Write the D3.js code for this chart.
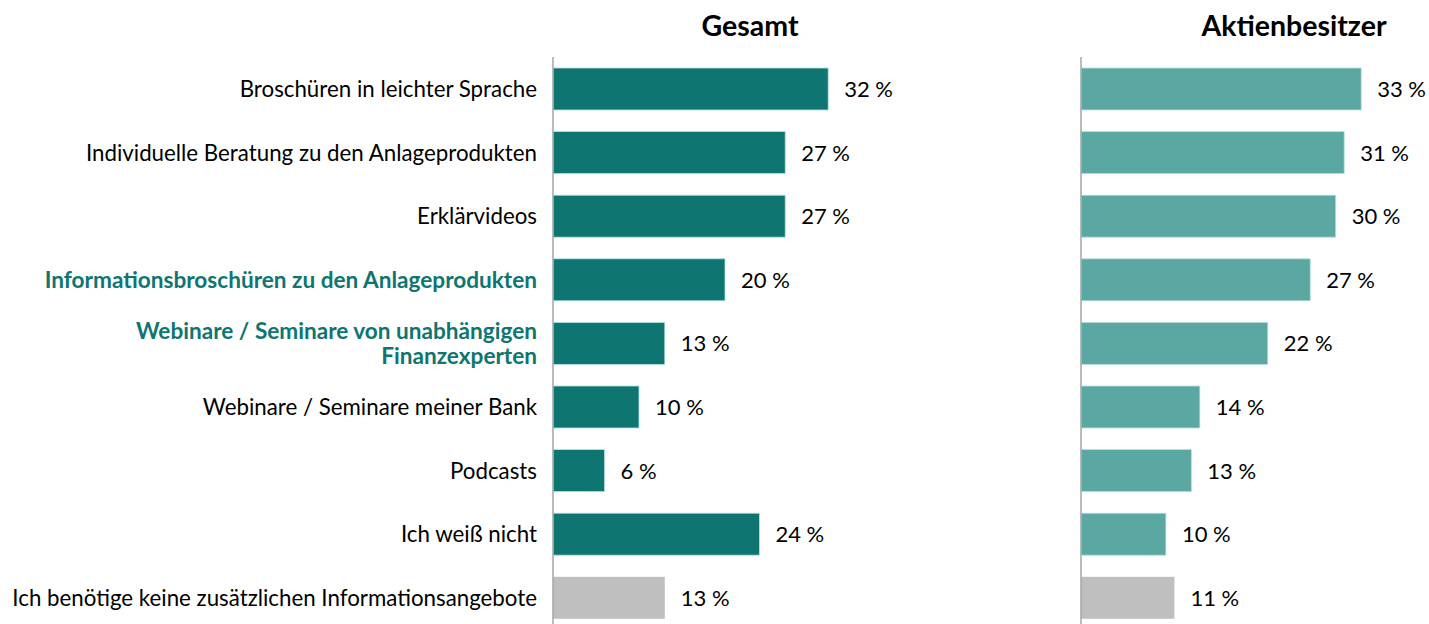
<!DOCTYPE html>
<html>
<head>
<meta charset="utf-8">
<script src="https://cdn.jsdelivr.net/npm/d3@7"></script>
<style>
  html, body { margin: 0; padding: 0; background: #fff; }
  svg { display: block; font-family: Lato, "Open Sans", sans-serif; }
</style>
</head>
<body>
<svg id="chart" width="1429" height="624"></svg>
<script>
// Survey answers: which information offers would help (multiple answers)
const categories = [
  "Broschüren in leichter Sprache",
  "Individuelle Beratung zu den Anlageprodukten",
  "Erklärvideos",
  "Informationsbroschüren zu den Anlageprodukten",
  "Webinare / Seminare von unabhängigen Finanzexperten",
  "Webinare / Seminare meiner Bank",
  "Podcasts",
  "Ich weiß nicht",
  "Ich benötige keine zusätzlichen Informationsangebote"
];
// Label lines (wrapped) for each category
const categoryLines = [
  ["Broschüren in leichter Sprache"],
  ["Individuelle Beratung zu den Anlageprodukten"],
  ["Erklärvideos"],
  ["Informationsbroschüren zu den Anlageprodukten"],
  ["Webinare / Seminare von unabhängigen", "Finanzexperten"],
  ["Webinare / Seminare meiner Bank"],
  ["Podcasts"],
  ["Ich weiß nicht"],
  ["Ich benötige keine zusätzlichen Informationsangebote"]
];
const highlighted = [
  "Informationsbroschüren zu den Anlageprodukten",
  "Webinare / Seminare von unabhängigen Finanzexperten"
];
const neutralCategory = "Ich benötige keine zusätzlichen Informationsangebote";

const gesamtValues = [32, 27, 27, 20, 13, 10, 6, 24, 13];
const aktienValues = [33, 31, 30, 27, 22, 14, 13, 10, 11];
const panelTitles = ["Gesamt", "Aktienbesitzer"];

const svg = d3.select("#chart");

// Band layout: 9 rows, step ~63.6px, bars 42px tall
const y = d3.scaleBand()
  .domain(categories)
  .range([57.2, 57.2 + 63.6 * 9])
  .paddingInner(0.34)
  .paddingOuter(0.17);

const panels = [
  { title: panelTitles[0], values: gesamtValues, x0: 553, pxPerUnit: 8.6, color: "#0E7570", titleX: 750 },
  { title: panelTitles[1], values: aktienValues, x0: 1081, pxPerUnit: 8.49, color: "#5BA8A3", titleX: 1294 }
];

panels.forEach(p => {
  const x = d3.scaleLinear().domain([0, 40]).range([p.x0, p.x0 + 40 * p.pxPerUnit]);
  const g = svg.append("g");

  g.append("text")
    .attr("x", p.titleX)
    .attr("y", 36)
    .attr("text-anchor", "middle")
    .attr("font-weight", "bold")
    .attr("font-size", 28.5)
    .attr("fill", "#000")
    .text(p.title);

  g.selectAll("rect.bar")
    .data(categories)
    .join("rect")
    .attr("class", "bar")
    .attr("x", x(0))
    .attr("y", d => y(d))
    .attr("width", (d, i) => x(p.values[i]) - x(0))
    .attr("height", y.bandwidth())
    .attr("fill", d => d === neutralCategory ? "#BFBFBF" : p.color)
    .attr("stroke", d => d === neutralCategory ? "none" : "#B7E0E0")
    .attr("stroke-width", 0.8);

  g.selectAll("text.val")
    .data(categories)
    .join("text")
    .attr("class", "val")
    .attr("x", (d, i) => x(p.values[i]) + 16)
    .attr("y", d => y(d) + y.bandwidth() / 2)
    .attr("dy", "0.36em")
    .attr("font-size", 22)
    .attr("fill", "#000")
    .text((d, i) => p.values[i] + " %");

  // vertical category axis line
  g.append("line")
    .attr("x1", x(0)).attr("x2", x(0))
    .attr("y1", 57).attr("y2", 624)
    .attr("stroke", "#A6A6A6")
    .attr("stroke-width", 1.5);
});

// Category labels
const lab = svg.append("g");
categories.forEach((c, i) => {
  const lines = categoryLines[i];
  const hl = highlighted.includes(c);
  const cy = y(c) + y.bandwidth() / 2;
  const lh = 25;
  const t = lab.append("text")
    .attr("text-anchor", "end")
    .attr("font-size", hl ? 22.6 : 22.3)
    .attr("font-weight", hl ? "bold" : "normal")
    .attr("fill", hl ? "#0E7570" : "#000");
  lines.forEach((ln, j) => {
    t.append("tspan")
      .attr("x", 537)
      .attr("y", cy + (j - (lines.length - 1) / 2) * lh)
      .attr("dy", "0.36em")
      .text(ln);
  });
});
</script>
</body>
</html>
